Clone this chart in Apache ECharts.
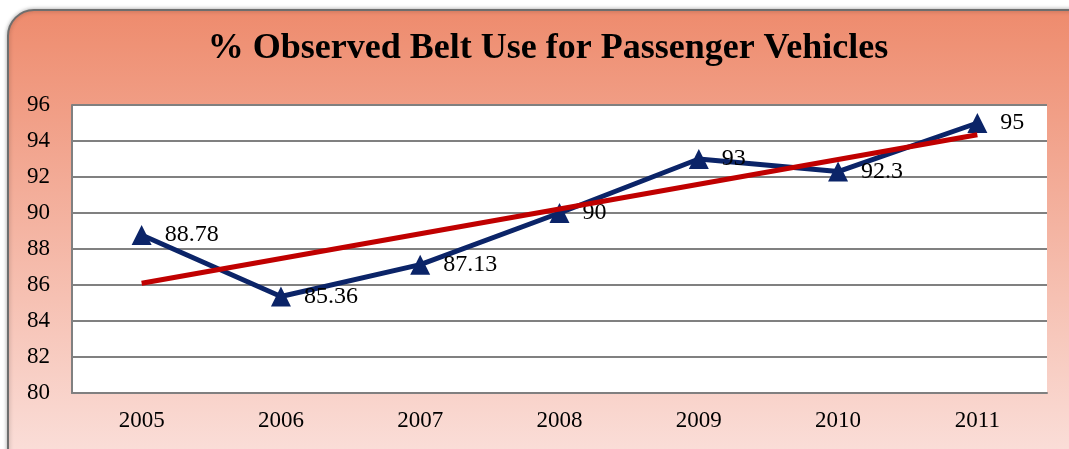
<!DOCTYPE html>
<html>
<head>
<meta charset="utf-8">
<script src="https://cdn.jsdelivr.net/npm/echarts@6/dist/echarts.min.js"></script>
<style>
  html, body { margin: 0; padding: 0; background: #fff; }
  #main { width: 1069px; height: 449px; }
</style>
</head>
<body>
<div id="main"></div>
<script>
// data
var years = ['2005', '2006', '2007', '2008', '2009', '2010', '2011'];
var beltUse = [88.78, 85.36, 87.13, 90, 93, 92.3, 95];
// linear trend line, its two ends
var trendEnds = [86.1, 94.35];

var serif = '"Liberation Serif", "DejaVu Serif", serif';

var myChart = echarts.init(document.getElementById('main'));
myChart.setOption({
  animation: false,
  graphic: [{
    type: 'rect',
    z: -10,
    shape: { x: 8, y: 10, width: 1100, height: 470, r: 26 },
    style: {
      fill: new echarts.graphic.LinearGradient(0, 0, 0, 1, [
        { offset: 0, color: '#ee8b6d' },
        { offset: 1, color: '#fbe3df' }
      ]),
      stroke: '#6e6e6e',
      lineWidth: 2,
      shadowBlur: 4,
      shadowColor: 'rgba(0,0,0,0.3)'
    }
  }],
  title: {
    text: '% Observed Belt Use for Passenger Vehicles',
    left: 543,
    top: 26,
    textAlign: 'center',
    textStyle: {
      fontFamily: serif,
      fontSize: 36,
      fontWeight: 'bold',
      color: '#000'
    }
  },
  grid: {
    left: 72,
    right: 22,
    top: 105,
    bottom: 56,
    show: true,
    backgroundColor: '#fff',
    borderWidth: 0
  },
  xAxis: {
    type: 'category',
    data: years,
    boundaryGap: true,
    axisLine: { show: true, lineStyle: { color: '#808080', width: 2 } },
    axisTick: { show: false },
    axisLabel: {
      margin: 16,
      fontFamily: serif,
      fontSize: 23,
      color: '#000'
    }
  },
  yAxis: {
    type: 'value',
    min: 80,
    max: 96,
    interval: 2,
    axisLine: { show: true, lineStyle: { color: '#808080', width: 2 } },
    axisTick: { show: false },
    splitLine: { lineStyle: { color: '#808080', width: 2 } },
    axisLabel: {
      margin: 22,
      fontFamily: serif,
      fontSize: 23,
      color: '#000'
    }
  },
  series: [
    {
      name: '% Observed Belt Use',
      type: 'line',
      data: beltUse,
      symbol: 'triangle',
      symbolSize: 20,
      itemStyle: { color: '#0b2468' },
      lineStyle: { color: '#0b2468', width: 5 },
      label: {
        show: true,
        position: 'right',
        distance: 13,
        fontFamily: serif,
        fontSize: 24,
        color: '#000'
      },
      z: 2
    },
    {
      name: 'Trend',
      type: 'line',
      data: [[years[0], trendEnds[0]], [years[years.length - 1], trendEnds[1]]],
      symbol: 'none',
      lineStyle: { color: '#c00000', width: 5 },
      z: 3
    }
  ]
});
</script>
</body>
</html>
